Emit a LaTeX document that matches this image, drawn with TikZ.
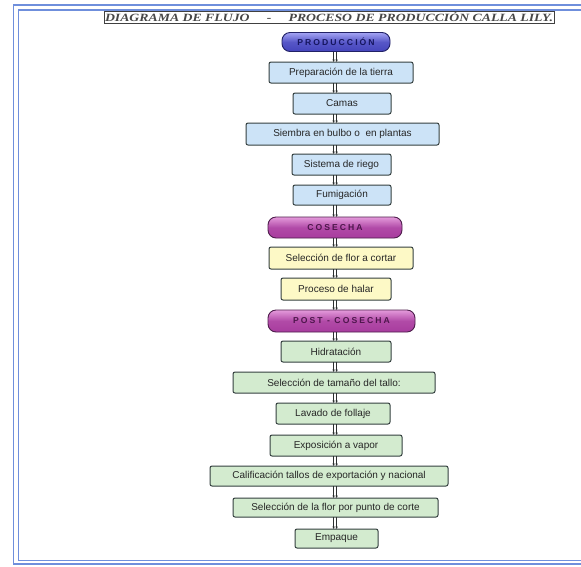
\documentclass[tikz,border=0pt]{standalone}
\usepackage{graphicx}
\usepackage{fontspec}
\setmainfont{Liberation Sans}
\newfontfamily\titlefont{Liberation Serif}
\newfontfamily\pillfont{Liberation Sans}[LetterSpace=24]
\usetikzlibrary{arrows.meta}

\definecolor{frameblue}{HTML}{6F8FDC}
\definecolor{boxedge}{HTML}{34403F}
\definecolor{boxtext}{HTML}{262626}
\definecolor{boxblue}{HTML}{CCE3F7}
\definecolor{boxyellow}{HTML}{FDF9C6}
\definecolor{boxgreen}{HTML}{D3EBCF}
\definecolor{prodtop}{HTML}{A4A4F4}
\definecolor{prodbot}{HTML}{4444BC}
\definecolor{prodedge}{HTML}{222266}
\definecolor{prodtext}{HTML}{15155E}
\definecolor{cosetop}{HTML}{E49ADB}
\definecolor{cosebot}{HTML}{A83C9E}
\definecolor{coseedge}{HTML}{4E1E4C}
\definecolor{cosetext}{HTML}{4E164C}
\definecolor{connline}{HTML}{2C3030}

\begin{document}
\begin{tikzpicture}[x=1pt,y=-1pt,
  frameline/.style={draw=frameblue,line width=1.4pt},
  stepbox/.style={draw=boxedge,line width=1pt,rounded corners=2pt,
    minimum height=21pt,inner sep=0pt,outer sep=0pt,text=boxtext,
    font=\fontsize{10}{11}\selectfont},
  bluebox/.style={stepbox,fill=boxblue},
  yellowbox/.style={stepbox,fill=boxyellow},
  greenbox/.style={stepbox,fill=boxgreen},
  phase/.style={line width=0.9pt,rounded corners=8pt,minimum height=21pt,
    inner sep=0pt,outer sep=0pt,font=\pillfont\bfseries\fontsize{8.6}{9}\selectfont},
  prodphase/.style={phase,draw=prodedge,top color=prodtop,bottom color=prodbot,
    middle color=prodbot!80!prodtop,text=prodtext},
  cosephase/.style={phase,draw=coseedge,top color=cosetop,bottom color=cosebot,
    middle color=cosebot!85!cosetop,text=cosetext},
  conn/.style={draw=connline,line width=0.8pt,
    -{Latex[length=2.4pt,width=2.6pt]}},
  titlebox/.style={draw=black!75,line width=0.6pt,inner sep=1.2pt,text=black!72}]

\useasboundingbox (0,0) rectangle (581,566);
\clip (0,0) rectangle (581,566);
\fill[white] (0,0) rectangle (581,566);

% double page frame, open to the right
\draw[frameline] (13.5,5) rectangle (640,564);
\draw[frameline,line width=1.1pt] (18.5,10) rectangle (640,560.5);

% title
\node[titlebox] (title) at (329,17)
  {\resizebox{448pt}{9.5pt}{\titlefont\bfseries\itshape DIAGRAMA DE FLUJO\quad\ -\quad\ PROCESO DE PRODUCCIÓN CALLA LILY.}};

% production stage
\node[prodphase,minimum width=108pt,minimum height=19pt] (prod) at (336,42) {PRODUCCIÓN};
\node[bluebox,minimum width=144pt] (prep) at (341,72.5) {Preparación de la tierra};
\node[bluebox,minimum width=98pt] (camas) at (342,103.5) {Camas};
\node[bluebox,minimum width=193pt,minimum height=22pt] (siembra) at (342.5,134) {Siembra en bulbo o\ \ en plantas};
\node[bluebox,minimum width=99pt] (riego) at (341.5,164.5) {Sistema de riego};
\node[bluebox,minimum width=98pt,minimum height=20pt] (fumig) at (342,195) {Fumigación};

% harvest stage
\node[cosephase,minimum width=134pt] (cosecha) at (335,227.5) {COSECHA};
\node[yellowbox,minimum width=144pt,minimum height=22pt] (selflor) at (341,258) {Selección de flor a cortar};
\node[yellowbox,minimum width=110pt,minimum height=22pt] (halar) at (336,289) {Proceso de halar};

% post-harvest stage
\node[cosephase,minimum width=147pt,minimum height=22pt] (post) at (341.5,321) {POST - COSECHA};
\node[greenbox,minimum width=110pt] (hidrat) at (336,351.5) {Hidratación};
\node[greenbox,minimum width=202pt] (tamano) at (334,382.5) {Selección de tamaño del tallo:};
\node[greenbox,minimum width=114pt] (lavado) at (333,413.5) {Lavado de follaje};
\node[greenbox,minimum width=132pt] (vapor) at (336,445.5) {Exposición a vapor};
\node[greenbox,minimum width=238pt,minimum height=20pt] (calif) at (329,476) {Calificación tallos de exportación y nacional};
\node[greenbox,minimum width=205pt,minimum height=19pt] (corte) at (335.5,507.5) {Selección de la flor por punto de corte};
\node[greenbox,minimum width=83pt,minimum height=19pt] (empaque) at (336.5,538.5) {Empaque};

% double connectors along the common spine
\coordinate (spineL) at (333.6,0);
\coordinate (spineR) at (336.6,0);
\foreach \a/\b in {prod/prep,prep/camas,camas/siembra,siembra/riego,riego/fumig,
  fumig/cosecha,cosecha/selflor,selflor/halar,halar/post,post/hidrat,
  hidrat/tamano,tamano/lavado,lavado/vapor,vapor/calif,calif/corte,corte/empaque}{
  \draw[conn] (\a.south -| spineL) -- (\b.north -| spineL);
  \draw[conn] (\a.south -| spineR) -- (\b.north -| spineR);
}
\end{tikzpicture}
\end{document}
